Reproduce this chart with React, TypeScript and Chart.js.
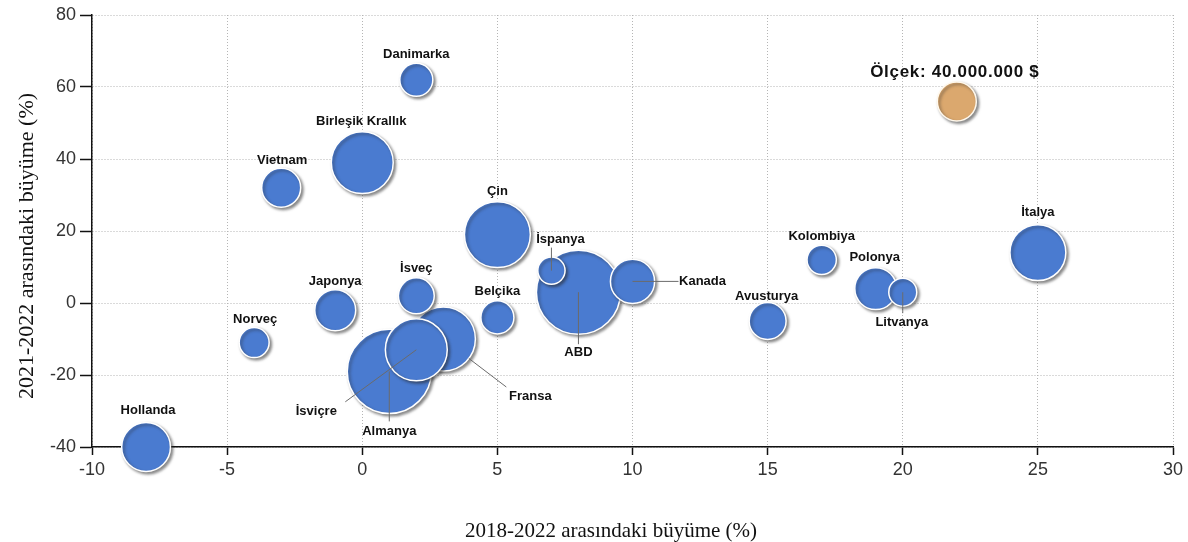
import React, { useEffect, useRef } from 'react';
import { Chart, registerables } from 'chart.js';

Chart.register(...registerables);

// ---- Data ----
const countries = [
  'Almanya', 'Fransa', 'İsviçre', 'ABD', 'İspanya', 'Kanada', 'Polonya', 'Litvanya',
  'Danimarka', 'Birleşik Krallık', 'Vietnam', 'Çin', 'Belçika', 'İsveç', 'Japonya',
  'Norveç', 'Hollanda', 'Avusturya', 'Kolombiya', 'İtalya',
];
const growth2018to2022 = [1, 3, 2, 8, 7, 10, 19, 20, 2, 0, -3, 5, 5, 2, -1, -4, -8, 15, 17, 25];
const growth2021to2022 = [-19, -10, -13, 3, 9, 6, 4, 3, 62, 39, 32, 19, -4, 2, -2, -11, -40, -5, 12, 14];
const valueMillionUSD = [181, 106, 99, 181, 20, 51, 46, 21, 29, 99, 40, 112, 29, 34, 44, 24, 62, 36, 23, 81];

const scaleLabel = 'Ölçek: 40.000.000 $';
const scaleX = [22];
const scaleY = [56];
const scaleValue = [40];

const xTitle = '2018-2022 arasındaki büyüme (%)';
const yTitle = '2021-2022 arasındaki büyüme (%)';

// ---- Annotation layout (pixel offsets of labels from bubble centers) ----
type LabelLayout = { dx: number; dy: number; line?: { x: number; y: number; fromEdge?: boolean } };
const labelLayout: LabelLayout[] = [
  { dx: 0, dy: 60, line: { x: 0, y: 50 } },            // Almanya
  { dx: 87, dy: 57, line: { x: 63, y: 48, fromEdge: true } }, // Fransa
  { dx: -100, dy: 62, line: { x: -71, y: 52 } },       // İsviçre
  { dx: 0, dy: 60, line: { x: 0, y: 52 } },            // ABD
  { dx: 9, dy: -31, line: { x: 0, y: -23 } },          // İspanya
  { dx: 70, dy: 0, line: { x: 46, y: 0 } },            // Kanada
  { dx: -1, dy: -31 },                                 // Polonya
  { dx: -1, dy: 30, line: { x: 0, y: 21 } },           // Litvanya
  { dx: 0, dy: -25 },                                  // Danimarka
  { dx: -1, dy: -41 },                                 // Birleşik Krallık
  { dx: 1, dy: -27 },                                  // Vietnam
  { dx: 0, dy: -43 },                                  // Çin
  { dx: 0, dy: -26 },                                  // Belçika
  { dx: 0, dy: -27 },                                  // İsveç
  { dx: 0, dy: -29 },                                  // Japonya
  { dx: 1, dy: -23 },                                  // Norveç
  { dx: 2, dy: -37 },                                  // Hollanda
  { dx: -1, dy: -25 },                                 // Avusturya
  { dx: 0, dy: -23 },                                  // Kolombiya
  { dx: 0, dy: -40 },                                  // İtalya
];

const radiusFor = (v: number) => 20 * Math.sqrt(v / 40) - 0.5;

const shadowPlugin = {
  id: 'bubbleShadow',
  beforeDatasetDraw(chart: any) {
    const ctx = chart.ctx;
    ctx.save();
    ctx.shadowColor = 'rgba(40,40,40,0.55)';
    ctx.shadowBlur = 3;
    ctx.shadowOffsetX = 2;
    ctx.shadowOffsetY = 2;
  },
  afterDatasetDraw(chart: any) {
    chart.ctx.restore();
  },
};

const labelsPlugin = {
  id: 'bubbleLabels',
  afterDatasetsDraw(chart: any) {
    const ctx = chart.ctx;
    const meta = chart.getDatasetMeta(0);
    ctx.save();
    // leader lines
    ctx.strokeStyle = '#6b6b6b';
    ctx.lineWidth = 1;
    meta.data.forEach((el: any, i: number) => {
      const L = labelLayout[i];
      if (!L || !L.line) return;
      let sx = el.x;
      let sy = el.y;
      const ex = el.x + L.line.x;
      const ey = el.y + L.line.y;
      if (L.line.fromEdge) {
        const d = Math.hypot(L.line.x, L.line.y);
        const r = el.options.radius;
        sx = el.x + (L.line.x / d) * r;
        sy = el.y + (L.line.y / d) * r;
      }
      ctx.beginPath();
      ctx.moveTo(sx, sy);
      ctx.lineTo(ex, ey);
      ctx.stroke();
    });
    // labels
    ctx.font = 'bold 13px "Liberation Sans", Arial, sans-serif';
    ctx.textAlign = 'center';
    ctx.textBaseline = 'middle';
    ctx.fillStyle = '#111';
    meta.data.forEach((el: any, i: number) => {
      const L = labelLayout[i];
      ctx.fillText(countries[i], el.x + L.dx, el.y + L.dy);
    });
    // scale label
    const sm = chart.getDatasetMeta(1);
    const sEl = sm.data[0];
    if (sEl) {
      ctx.font = 'bold 17px "Liberation Sans", Arial, sans-serif';
      try { (ctx as any).letterSpacing = '0.7px'; } catch (e) {}
      ctx.fillText(scaleLabel, sEl.x - 2, sEl.y - 29);
      try { (ctx as any).letterSpacing = '0px'; } catch (e) {}
    }
    ctx.restore();
  },
};

const axisTitlesPlugin = {
  id: 'axisTitles',
  afterDraw(chart: any) {
    const ctx = chart.ctx;
    ctx.save();
    ctx.fillStyle = '#111';
    ctx.textAlign = 'center';
    ctx.textBaseline = 'alphabetic';
    ctx.font = '21px "Liberation Serif", "Times New Roman", serif';
    ctx.fillText(xTitle, 611, 537);
    ctx.translate(33, 246);
    ctx.rotate(-Math.PI / 2);
    ctx.font = '22px "Liberation Serif", "Times New Roman", serif';
    ctx.fillText(yTitle, 0, 0);
    ctx.restore();
  },
};

export default function App() {
  const canvasRef = useRef<HTMLCanvasElement | null>(null);

  useEffect(() => {
    document.body.style.margin = '0';
    const canvas = canvasRef.current;
    if (!canvas) return;

    const tickFont = { family: '"Liberation Sans", Arial, sans-serif', size: 18 };

    const chart = new Chart(canvas, {
      type: 'bubble',
      data: {
        datasets: [
          {
            label: 'Ülkeler',
            data: countries.map((_, i) => ({
              x: growth2018to2022[i],
              y: growth2021to2022[i],
              r: radiusFor(valueMillionUSD[i]),
            })),
            backgroundColor: '#4a7bd0',
            borderColor: '#ffffff',
            borderWidth: 1.5,
            clip: false as any,
          },
          {
            label: scaleLabel,
            data: scaleX.map((_, i) => ({
              x: scaleX[i],
              y: scaleY[i],
              r: radiusFor(scaleValue[i]),
            })),
            backgroundColor: '#dba86e',
            borderColor: '#fff8ec',
            borderWidth: 1.5,
            clip: false as any,
          },
        ],
      },
      options: {
        responsive: false,
        animation: false,
        layout: { autoPadding: false, padding: { top: 15, right: 15, left: 0, bottom: 0 } },
        plugins: {
          legend: { display: false },
          tooltip: { enabled: false },
        },
        scales: {
          x: {
            type: 'linear',
            min: -10,
            max: 30,
            ticks: { stepSize: 5, color: '#333', font: tickFont, padding: 4 },
            grid: { color: '#b5b5b5', lineWidth: 1, tickLength: 8, tickColor: '#111', tickWidth: 1.5 },
            border: { color: '#111', width: 1.5, dash: [1, 2] },
            afterFit: (scale: any) => { scale.height = 95; },
          },
          y: {
            type: 'linear',
            min: -40,
            max: 80,
            ticks: { stepSize: 20, color: '#333', font: tickFont, padding: 4 },
            grid: { color: '#b5b5b5', lineWidth: 1, tickLength: 12, tickColor: '#111', tickWidth: 1.5 },
            border: { color: '#111', width: 1.5, dash: [1, 2] },
            afterFit: (scale: any) => { scale.width = 92; },
          },
        },
      },
      plugins: [shadowPlugin, labelsPlugin, axisTitlesPlugin],
    });

    return () => chart.destroy();
  }, []);

  return (
    <div style={{ position: 'absolute', left: 0, top: 0, width: 1188, height: 542, background: '#fff' }}>
      <canvas ref={canvasRef} width={1188} height={542} />
    </div>
  );
}
